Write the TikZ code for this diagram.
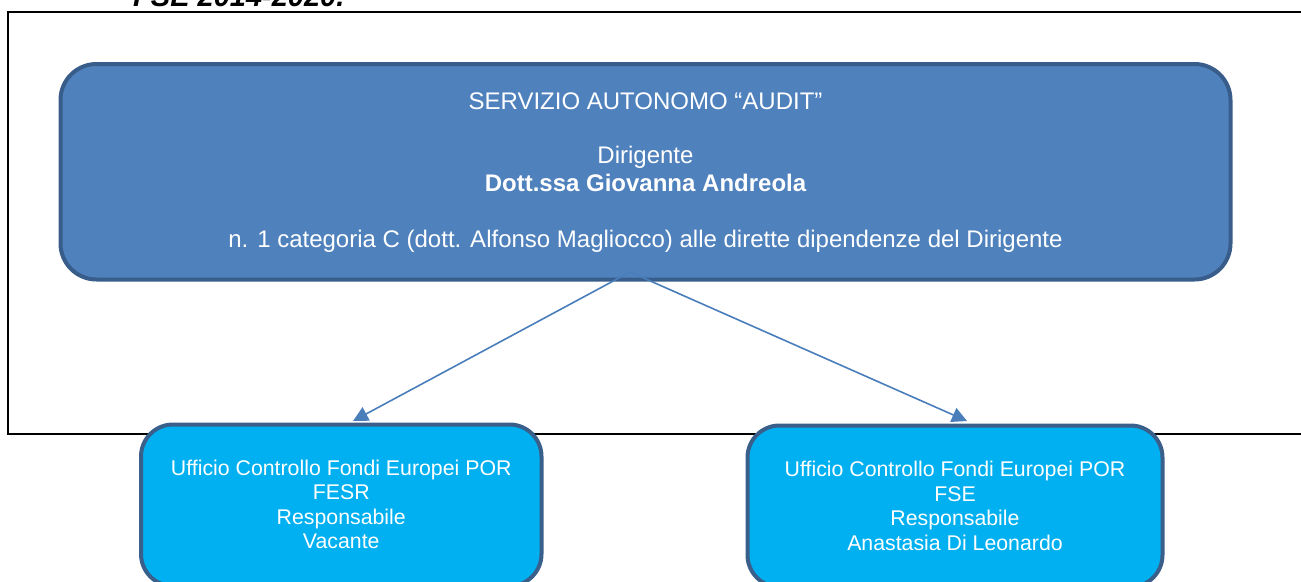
\documentclass[tikz,border=0pt]{standalone}
\usepackage{fontspec}
\setmainfont{Liberation Sans}[Ligatures=NoCommon]
\usetikzlibrary{arrows.meta}
\definecolor{mainfill}{HTML}{4F81BD}
\definecolor{mainborder}{HTML}{385D8A}
\definecolor{subfill}{HTML}{00B0F0}
\definecolor{subborder}{HTML}{3A5F8B}
\definecolor{arrowcol}{HTML}{4A7EBB}
\begin{document}
\begin{tikzpicture}[x=1pt,y=-1pt,
  mainbox/.style={draw=mainborder, fill=mainfill, line width=4pt, rounded corners=36pt,
    minimum width=1170pt, minimum height=215.5pt, inner sep=0pt},
  subbox/.style={draw=subborder, fill=subfill, line width=4pt, rounded corners=32pt,
    minimum height=161.5pt, inner sep=0pt},
  maintext/.style={text=white, font=\fontsize{24}{27.6}\selectfont, anchor=base, inner sep=0pt},
  subtext/.style={text=white, font=\fontsize{21.3}{24.5}\selectfont, anchor=base, inner sep=0pt},
  conn/.style={draw=arrowcol, line width=1.6pt, -{Triangle[length=15pt,width=15pt]}}]
\useasboundingbox (0,0) rectangle (1301,581);

% heading remnant (cut at the top)
\node[anchor=base west, inner sep=0pt, font=\fontsize{29}{33}\selectfont\bfseries\itshape] (head) at (133,6) {FSE 2014-2020.};

% outer frame
\draw[line width=2pt] (8.3,12) rectangle (1330,434);

% main box
\node[mainbox] (main) at (645.5,171.75) {};
\node[maintext] (m1) at (645.5,109) {SERVIZIO AUTONOMO “AUDIT”};
\node[maintext] (m2) at (645.5,163.5) {Dirigente};
\node[maintext] (m3) at (645.5,191) {\bfseries Dott.ssa Giovanna Andreola};
\node[maintext] (m4) at (645.5,247) {n. 1 categoria C (dott. Alfonso Magliocco) alle dirette dipendenze del Dirigente};

% connectors
\coordinate (apex) at (630,272);
\coordinate (ltip) at (353,421);
\coordinate (rtip) at (967,421);
\draw[conn] (apex) -- (ltip);
\draw[conn] (apex) -- (rtip);

% sub boxes
\node[subbox, minimum width=400.5pt] (fesr) at (341.25,505.25) {};
\node[subbox, minimum width=415pt] (fse) at (955,506.25) {};

\node[subtext] (l1) at (341.25,475) {Ufficio Controllo Fondi Europei POR};
\node[subtext] (l2) at (341.25,499.5) {FESR};
\node[subtext] (l3) at (341.25,524) {Responsabile};
\node[subtext] (l4) at (341.25,548.5) {Vacante};

\node[subtext] (r1) at (955,476.5) {Ufficio Controllo Fondi Europei POR};
\node[subtext] (r2) at (955,501) {FSE};
\node[subtext] (r3) at (955,525.5) {Responsabile};
\node[subtext] (r4) at (955,550) {Anastasia Di Leonardo};
\end{tikzpicture}
\end{document}
